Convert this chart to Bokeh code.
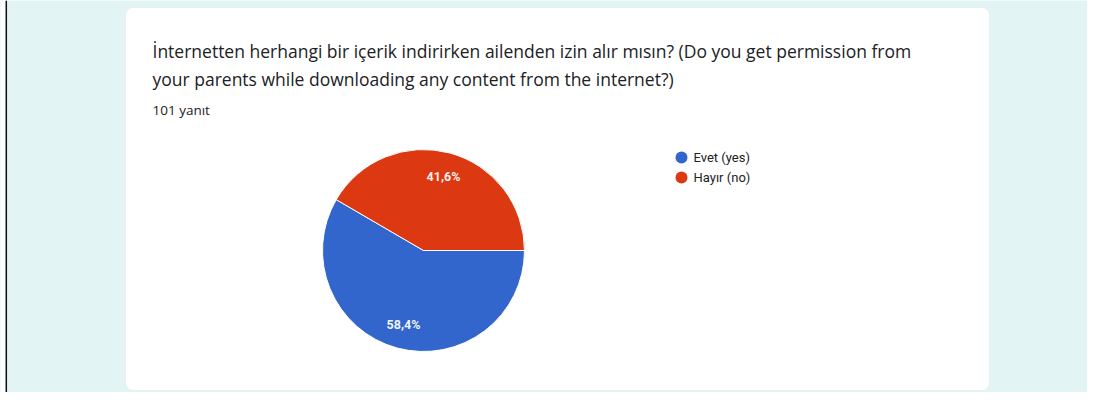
import numpy as np
from bokeh.plotting import figure
from bokeh.models import Range1d, BoxAnnotation, ColumnDataSource, Span
from bokeh.core.properties import value
from bokeh.embed import file_html
from bokeh.resources import INLINE

# ---- data ----
categories = ["Evet (yes)", "Hayır (no)"]
percents = [58.4, 41.6]
colors = ["#3366cc", "#dc3912"]
pct_labels = ["58,4%", "41,6%"]
title_lines = [
    "İnternetten herhangi bir içerik indirirken ailenden izin alır mısın? (Do you get permission from",
    "your parents while downloading any content from the internet?)",
]
response_text = "101 yanıt"

H = 408  # data y = H - page_y

p = figure(width=1087, height=392, output_backend="svg", toolbar_location=None,
           x_range=Range1d(0, 1087), y_range=Range1d(16, 408), min_border=0)
p.axis.visible = False
p.grid.visible = False
p.outline_line_color = None
p.background_fill_color = "#e3f4f4"
p.border_fill_color = "#e3f4f4"

# left edge strip of the screenshot
p.add_layout(BoxAnnotation(left=0, right=5, fill_color="white", fill_alpha=1.0,
                           line_color=None, level="underlay"))
p.add_layout(Span(location=5.8, dimension="height", line_color="#111111", line_width=1.5))

# card
card = BoxAnnotation(left=125, right=989, bottom=H - 390, top=H - 7,
                     fill_color="white", fill_alpha=1.0, line_color="#dadce0",
                     line_width=1, border_radius=8, level="underlay")
p.add_layout(card)

# pie (clockwise from 3 o'clock)
cx, cy, r = 423, H - 250, 101
frac = np.array(percents) / sum(percents)
ends = -np.cumsum(frac) * 2 * np.pi
starts = np.concatenate([[0.0], ends[:-1]])
src = ColumnDataSource(dict(start=ends, end=starts, color=colors, cat=categories))
p.wedge(x=cx, y=cy, radius=r, start_angle="start", end_angle="end",
        fill_color="color", line_color="white", line_width=1, source=src)

mids = (starts + ends) / 2
lx = cx + 0.76 * r * np.cos(mids)
ly = cy + 0.76 * r * np.sin(mids)
p.text(x=lx, y=ly, text=pct_labels, text_color="white", text_font=value("Roboto"),
       text_font_size="12.5px", text_font_style="bold", text_align="center",
       text_baseline="middle", text_alpha=0.95)

# legend
leg_y = [H - 157 - 20 * i for i in range(len(categories))]
p.scatter(x=[681] * len(categories), y=leg_y, size=12, fill_color=colors, line_color=None)
p.text(x=[693] * len(categories), y=leg_y, text=categories, text_color="#222222",
       text_font=value("Roboto"), text_font_size="13px", text_baseline="middle")

# title
p.text(x=[152, 152], y=[H - 50, H - 78], text=title_lines, text_color="#202124",
       text_font=value("Open Sans"), text_font_size="17.5px", text_baseline="alphabetic")
p.text(x=[152], y=[H - 109], text=[response_text], text_color="#202124",
       text_font=value("Open Sans"), text_font_size="13.5px", text_baseline="alphabetic")

open("out.html", "w").write(file_html(p, INLINE))
